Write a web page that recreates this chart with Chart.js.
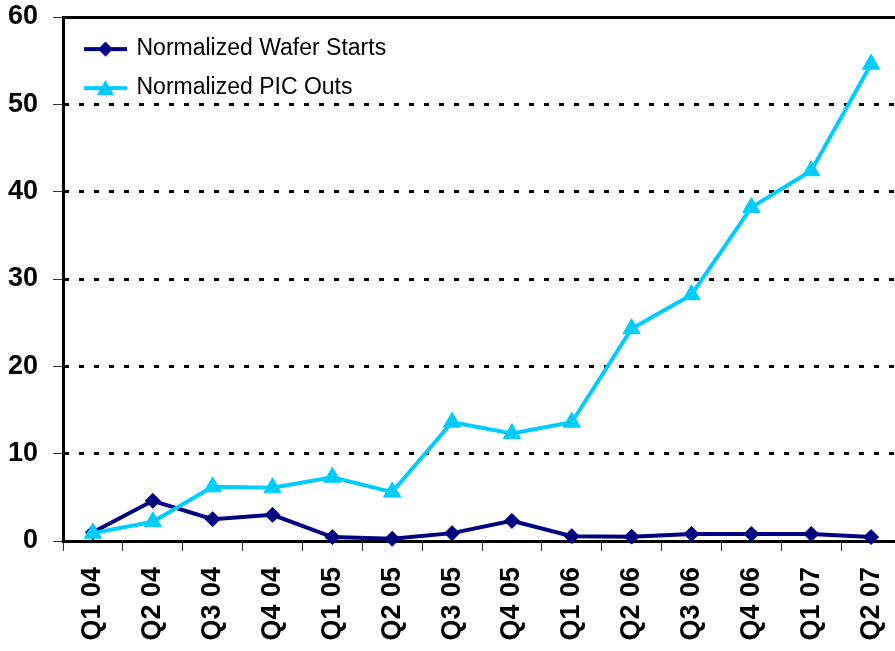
<!DOCTYPE html>
<html>
<head>
<meta charset="utf-8">
<script src="https://cdn.jsdelivr.net/npm/chart.js@4/dist/chart.umd.min.js"></script>
<style>
  html, body { margin: 0; padding: 0; background: #fff; overflow: hidden; }
  #wrap { width: 895px; height: 651px; overflow: hidden; }
  canvas { display: block; }
</style>
</head>
<body>
<div id="wrap"><canvas id="c" width="912" height="651"></canvas></div>
<script>
const categories = ['Q1 04','Q2 04','Q3 04','Q4 04','Q1 05','Q2 05','Q3 05','Q4 05','Q1 06','Q2 06','Q3 06','Q4 06','Q1 07','Q2 07'];
const waferStarts = [1.0, 4.6, 2.5, 3.0, 0.45, 0.25, 0.9, 2.3, 0.55, 0.5, 0.8, 0.8, 0.8, 0.45];
const picOuts = [0.9, 2.2, 6.2, 6.1, 7.3, 5.6, 13.6, 12.3, 13.6, 24.3, 28.2, 38.2, 42.4, 54.6];
const yTicks = [0, 10, 20, 30, 40, 50, 60];
const seriesNames = ['Normalized Wafer Starts', 'Normalized PIC Outs'];
const seriesColors = ['#000080', '#00CCFF'];

const FONT = '"Liberation Sans", Arial, sans-serif';

function legendIcon(color, style) {
  const cv = document.createElement('canvas');
  cv.width = 56; cv.height = 24;
  const g = cv.getContext('2d');
  g.strokeStyle = color; g.fillStyle = color; g.lineWidth = 4;
  g.beginPath(); g.moveTo(10, 12); g.lineTo(53, 12); g.stroke();
  g.beginPath();
  const cx = 31.5, cy = 12;
  if (style === 'rectRot') {
    const r = 7.5;
    g.moveTo(cx - r, cy); g.lineTo(cx, cy - r); g.lineTo(cx + r, cy); g.lineTo(cx, cy + r);
  } else {
    const r = 10;
    g.moveTo(cx, cy - r * 0.8); g.lineTo(cx + r * 0.87, cy + r * 0.7); g.lineTo(cx - r * 0.87, cy + r * 0.7);
  }
  g.closePath(); g.fill();
  return cv;
}
const icons = [legendIcon(seriesColors[0], 'rectRot'), legendIcon(seriesColors[1], 'triangle')];

new Chart(document.getElementById('c'), {
  type: 'line',
  data: {
    labels: categories,
    datasets: [
      {
        label: seriesNames[0], data: waferStarts, order: 1,
        borderColor: seriesColors[0], backgroundColor: seriesColors[0], borderWidth: 4,
        pointStyle: 'rectRot', pointRadius: 7.5, pointBorderWidth: 1,
        pointBackgroundColor: seriesColors[0], pointBorderColor: seriesColors[0],
        tension: 0, clip: false, xAxisID: 'x', yAxisID: 'y'
      },
      {
        label: seriesNames[1], data: picOuts, order: 0,
        borderColor: seriesColors[1], backgroundColor: seriesColors[1], borderWidth: 4,
        pointStyle: 'triangle', pointRadius: 10, pointBorderWidth: 1,
        pointBackgroundColor: seriesColors[1], pointBorderColor: seriesColors[1],
        tension: 0, clip: false, xAxisID: 'x', yAxisID: 'y'
      }
    ]
  },
  options: {
    responsive: false,
    devicePixelRatio: 1,
    animation: false,
    layout: { padding: { left: 0, right: 0, top: 0, bottom: 0 } },
    plugins: {
      tooltip: { enabled: false },
      legend: {
        position: 'chartArea',
        fullSize: false,
        align: 'start',
        title: { display: true, text: ' ', padding: { top: 18, bottom: 0 }, font: { size: 3 } },
        labels: {
          usePointStyle: true,
          pointStyleWidth: 46,
          padding: 16,
          color: '#000',
          font: { family: FONT, size: 23 },
          generateLabels: () => seriesNames.map((n, i) => ({
            text: n, pointStyle: icons[i], fillStyle: seriesColors[i], fontColor: '#000',
            strokeStyle: seriesColors[i], lineWidth: 0, hidden: false, datasetIndex: i
          }))
        }
      }
    },
    scales: {
      x: {
        type: 'category',
        position: 'bottom',
        offset: true,
        grid: { offset: true, drawOnChartArea: false, drawTicks: true, tickLength: 10, color: '#000', tickColor: '#333', tickWidth: 1, lineWidth: 1 },
        border: { display: true, color: '#000', width: 3 },
        ticks: {
          autoSkip: false, minRotation: 90, maxRotation: 90, padding: 16,
          color: '#000', font: { family: FONT, size: 27, weight: 'bold' }
        },
        afterFit: s => { s.height = 110; s.paddingLeft = 0; s.paddingRight = 0; }
      },
      xTop: {
        type: 'category',
        position: 'top',
        offset: true,
        grid: { drawOnChartArea: false, drawTicks: false, color: 'rgba(0,0,0,0)' },
        border: { display: true, color: '#000', width: 3 },
        ticks: { display: false },
        afterFit: s => { s.height = 17; s.paddingLeft = 0; s.paddingRight = 0; }
      },
      y: {
        type: 'linear',
        position: 'left',
        min: yTicks[0], max: yTicks[yTicks.length - 1],
        afterBuildTicks: s => { s.ticks = yTicks.map(v => ({ value: v })); },
        grid: {
          drawTicks: true, tickLength: 10, tickColor: '#333', tickWidth: 1, lineWidth: 3,
          color: c => (c.tick && (c.tick.value === 0 || c.tick.value === 60)) ? 'rgba(0,0,0,0)' : '#000'
        },
        border: { display: true, color: '#000', width: 3, dash: [5, 10], dashOffset: 1 },
        ticks: { padding: 15, color: '#000', font: { family: FONT, size: 27, weight: 'bold' } },
        afterFit: s => { s.width = 63; s.paddingTop = 0; s.paddingBottom = 0; }
      }
    }
  }
});
</script>
</body>
</html>
